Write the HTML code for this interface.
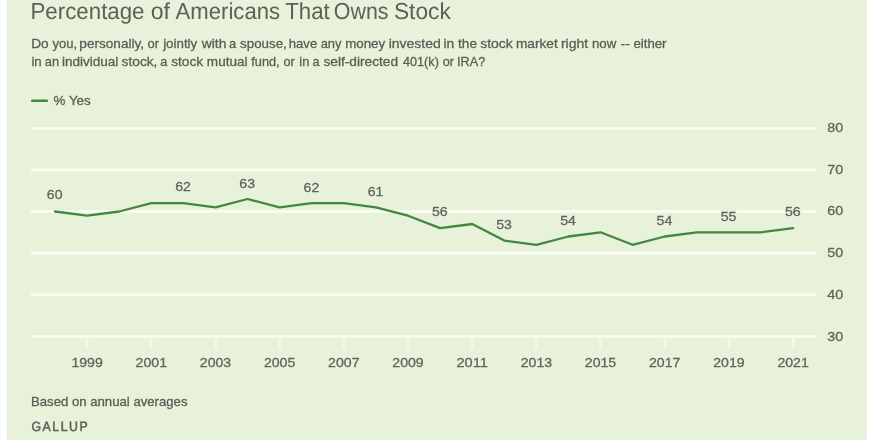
<!DOCTYPE html>
<html lang="en">
<head>
<meta charset="utf-8">
<title>Percentage of Americans That Owns Stock</title>
<style>
html,body{margin:0;padding:0;background:#fff;}
body{width:875px;height:440px;overflow:hidden;position:relative;}
svg{display:block;position:absolute;left:0;top:0;}
text{font-family:"Liberation Sans",Arial,Helvetica,sans-serif;fill:#5c6158;}
.t{font-size:23.2px;text-rendering:geometricPrecision;}
.s{font-size:13.4px;fill:#595e55;stroke:#595e55;stroke-width:0.3px;}
.d{font-size:13.3px;fill:#60655c;stroke:#60655c;stroke-width:0.3px;}
.m{text-anchor:middle;}
.g{font-size:13.4px;stroke:#5c6158;stroke-width:0.5px;text-rendering:geometricPrecision;}
</style>
</head>
<body>
<svg width="875" height="440" viewBox="0 0 875 440">
<rect x="0" y="0" width="875" height="440" fill="#ffffff"/>
<rect x="0" y="0" width="2" height="440" fill="#fbfbff"/>
<rect x="4" y="0" width="3" height="440" fill="#fefff8"/>
<rect x="7" y="0" width="858" height="440" fill="#e8f2da"/>
<rect x="7" y="0" width="1" height="440" fill="#e7eadc"/>
<rect x="8" y="0" width="3" height="440" fill="#eaf0de"/>
<rect x="864" y="0" width="1" height="440" fill="#ebf0dd"/>
<rect x="865" y="0" width="2" height="440" fill="#edefe1"/>
<rect x="867" y="0" width="3" height="440" fill="#fefff8"/>
<text y="18.5" class="t"><tspan x="30.5" textLength="114.02" lengthAdjust="spacingAndGlyphs">Percentage</tspan> <tspan x="150.63" textLength="19.31" lengthAdjust="spacingAndGlyphs">of</tspan> <tspan x="175.62" textLength="104.41" lengthAdjust="spacingAndGlyphs">Americans</tspan> <tspan x="285.23" textLength="44.44" lengthAdjust="spacingAndGlyphs">That</tspan> <tspan x="333.86" textLength="54.63" lengthAdjust="spacingAndGlyphs">Owns</tspan> <tspan x="393.95" textLength="56.88" lengthAdjust="spacingAndGlyphs">Stock</tspan></text>
<text y="48" class="s"><tspan x="31.18" textLength="17.49" lengthAdjust="spacingAndGlyphs">Do</tspan> <tspan x="52.44" textLength="24.69" lengthAdjust="spacingAndGlyphs">you,</tspan> <tspan x="79.36" textLength="64.75" lengthAdjust="spacingAndGlyphs">personally,</tspan> <tspan x="147.52" textLength="11.49" lengthAdjust="spacingAndGlyphs">or</tspan> <tspan x="163.13" textLength="34.12" lengthAdjust="spacingAndGlyphs">jointly</tspan> <tspan x="201.71" textLength="24.82" lengthAdjust="spacingAndGlyphs">with</tspan> <tspan x="228.88" textLength="7.18" lengthAdjust="spacingAndGlyphs">a</tspan> <tspan x="240.1" textLength="46.7" lengthAdjust="spacingAndGlyphs">spouse,</tspan> <tspan x="288.72" textLength="28.54" lengthAdjust="spacingAndGlyphs">have</tspan> <tspan x="320.7" textLength="20.81" lengthAdjust="spacingAndGlyphs">any</tspan> <tspan x="345.14" textLength="40.06" lengthAdjust="spacingAndGlyphs">money</tspan> <tspan x="388.7" textLength="52.07" lengthAdjust="spacingAndGlyphs">invested</tspan> <tspan x="443.57" textLength="10.73" lengthAdjust="spacingAndGlyphs">in</tspan> <tspan x="458.1" textLength="18.86" lengthAdjust="spacingAndGlyphs">the</tspan> <tspan x="480.16" textLength="32.64" lengthAdjust="spacingAndGlyphs">stock</tspan> <tspan x="515.99" textLength="41.72" lengthAdjust="spacingAndGlyphs">market</tspan> <tspan x="560.94" textLength="27.21" lengthAdjust="spacingAndGlyphs">right</tspan> <tspan x="591.9" textLength="24.37" lengthAdjust="spacingAndGlyphs">now</tspan> <tspan x="620.56" textLength="9.31" lengthAdjust="spacingAndGlyphs">--</tspan> <tspan x="633.42" textLength="33.11" lengthAdjust="spacingAndGlyphs">either</tspan></text>
<text y="66" class="s"><tspan x="31.4" textLength="10.39" lengthAdjust="spacingAndGlyphs">in</tspan> <tspan x="44.81" textLength="14.29" lengthAdjust="spacingAndGlyphs">an</tspan> <tspan x="61.95" textLength="56.42" lengthAdjust="spacingAndGlyphs">individual</tspan> <tspan x="121.63" textLength="35.81" lengthAdjust="spacingAndGlyphs">stock,</tspan> <tspan x="160.32" textLength="7.04" lengthAdjust="spacingAndGlyphs">a</tspan> <tspan x="171.16" textLength="32.02" lengthAdjust="spacingAndGlyphs">stock</tspan> <tspan x="206.85" textLength="40.7" lengthAdjust="spacingAndGlyphs">mutual</tspan> <tspan x="251.31" textLength="28.26" lengthAdjust="spacingAndGlyphs">fund,</tspan> <tspan x="283.42" textLength="11.27" lengthAdjust="spacingAndGlyphs">or</tspan> <tspan x="299.32" textLength="9.94" lengthAdjust="spacingAndGlyphs">in</tspan> <tspan x="312.41" textLength="7.04" lengthAdjust="spacingAndGlyphs">a</tspan> <tspan x="323.42" textLength="74.69" lengthAdjust="spacingAndGlyphs">self-directed</tspan> <tspan x="402.99" textLength="35.89" lengthAdjust="spacingAndGlyphs">401(k)</tspan> <tspan x="442.77" textLength="11.27" lengthAdjust="spacingAndGlyphs">or</tspan> <tspan x="457.1" textLength="28.15" lengthAdjust="spacingAndGlyphs">IRA?</tspan></text>
<rect x="31" y="99.4" width="17" height="2.6" rx="1" fill="#44873f"/>
<text x="53.5" y="105.2" class="s">% Yes</text>
<rect x="31" y="335.0" width="785" height="2.6" fill="#fafdf5"/>
<rect x="31" y="293.4" width="785" height="2.6" fill="#fafdf5"/>
<rect x="31" y="251.8" width="785" height="2.6" fill="#fafdf5"/>
<rect x="31" y="210.2" width="785" height="2.6" fill="#fafdf5"/>
<rect x="31" y="168.6" width="785" height="2.6" fill="#fafdf5"/>
<rect x="31" y="127.0" width="785" height="2.6" fill="#fafdf5"/>
<text x="827.3" y="341" class="d" textLength="15.9" lengthAdjust="spacingAndGlyphs">30</text>
<text x="827.3" y="299" class="d" textLength="15.9" lengthAdjust="spacingAndGlyphs">40</text>
<text x="827.3" y="257" class="d" textLength="15.9" lengthAdjust="spacingAndGlyphs">50</text>
<text x="827.3" y="215" class="d" textLength="15.9" lengthAdjust="spacingAndGlyphs">60</text>
<text x="827.3" y="174" class="d" textLength="15.9" lengthAdjust="spacingAndGlyphs">70</text>
<text x="827.3" y="132" class="d" textLength="15.9" lengthAdjust="spacingAndGlyphs">80</text>
<rect x="85.9" y="336.3" width="2.4" height="13" fill="#f4f9ec"/>
<rect x="150.1" y="336.3" width="2.4" height="13" fill="#f4f9ec"/>
<rect x="214.3" y="336.3" width="2.4" height="13" fill="#f4f9ec"/>
<rect x="278.4" y="336.3" width="2.4" height="13" fill="#f4f9ec"/>
<rect x="342.6" y="336.3" width="2.4" height="13" fill="#f4f9ec"/>
<rect x="406.8" y="336.3" width="2.4" height="13" fill="#f4f9ec"/>
<rect x="471.0" y="336.3" width="2.4" height="13" fill="#f4f9ec"/>
<rect x="535.1" y="336.3" width="2.4" height="13" fill="#f4f9ec"/>
<rect x="599.3" y="336.3" width="2.4" height="13" fill="#f4f9ec"/>
<rect x="663.5" y="336.3" width="2.4" height="13" fill="#f4f9ec"/>
<rect x="727.7" y="336.3" width="2.4" height="13" fill="#f4f9ec"/>
<rect x="791.9" y="336.3" width="2.4" height="13" fill="#f4f9ec"/>
<text x="87.1" y="367" class="d m" textLength="31.4" lengthAdjust="spacingAndGlyphs">1999</text>
<text x="151.3" y="367" class="d m" textLength="31.4" lengthAdjust="spacingAndGlyphs">2001</text>
<text x="215.5" y="367" class="d m" textLength="31.4" lengthAdjust="spacingAndGlyphs">2003</text>
<text x="279.6" y="367" class="d m" textLength="31.4" lengthAdjust="spacingAndGlyphs">2005</text>
<text x="343.8" y="367" class="d m" textLength="31.4" lengthAdjust="spacingAndGlyphs">2007</text>
<text x="408.0" y="367" class="d m" textLength="31.4" lengthAdjust="spacingAndGlyphs">2009</text>
<text x="472.2" y="367" class="d m" textLength="31.4" lengthAdjust="spacingAndGlyphs">2011</text>
<text x="536.4" y="367" class="d m" textLength="31.4" lengthAdjust="spacingAndGlyphs">2013</text>
<text x="600.5" y="367" class="d m" textLength="31.4" lengthAdjust="spacingAndGlyphs">2015</text>
<text x="664.7" y="367" class="d m" textLength="31.4" lengthAdjust="spacingAndGlyphs">2017</text>
<text x="728.9" y="367" class="d m" textLength="31.4" lengthAdjust="spacingAndGlyphs">2019</text>
<text x="793.1" y="367" class="d m" textLength="31.4" lengthAdjust="spacingAndGlyphs">2021</text>

<polyline points="55.0,211.5 87.1,215.7 119.2,211.5 151.3,203.2 183.4,203.2 215.5,207.3 247.5,199.0 279.6,207.3 311.7,203.2 343.8,203.2 375.9,207.3 408.0,215.7 440.1,228.1 472.2,224.0 504.3,240.6 536.4,244.8 568.4,236.5 600.5,232.3 632.6,244.8 664.7,236.5 696.8,232.3 728.9,232.3 761.0,232.3 793.1,228.1" fill="none" stroke="#44873f" stroke-width="2.3" stroke-linejoin="round" stroke-linecap="round"/>
<rect x="46.5" y="187.7" width="16.4" height="12.8" rx="2" fill="#e8f2da"/><text x="54.7" y="199" class="d m" textLength="15.7" lengthAdjust="spacingAndGlyphs">60</text>
<rect x="174.9" y="179.7" width="16.4" height="12.8" rx="2" fill="#e8f2da"/><text x="183.1" y="191" class="d m" textLength="15.7" lengthAdjust="spacingAndGlyphs">62</text>
<rect x="239.0" y="176.7" width="16.4" height="12.8" rx="2" fill="#e8f2da"/><text x="247.2" y="188" class="d m" textLength="15.7" lengthAdjust="spacingAndGlyphs">63</text>
<rect x="303.2" y="180.7" width="16.4" height="12.8" rx="2" fill="#e8f2da"/><text x="311.4" y="192" class="d m" textLength="15.7" lengthAdjust="spacingAndGlyphs">62</text>
<rect x="367.4" y="184.7" width="16.4" height="12.8" rx="2" fill="#e8f2da"/><text x="375.6" y="196" class="d m" textLength="15.7" lengthAdjust="spacingAndGlyphs">61</text>
<rect x="431.6" y="204.7" width="16.4" height="12.8" rx="2" fill="#e8f2da"/><text x="439.8" y="216" class="d m" textLength="15.7" lengthAdjust="spacingAndGlyphs">56</text>
<rect x="495.8" y="217.7" width="16.4" height="12.8" rx="2" fill="#e8f2da"/><text x="504.0" y="229" class="d m" textLength="15.7" lengthAdjust="spacingAndGlyphs">53</text>
<rect x="559.9" y="213.7" width="16.4" height="12.8" rx="2" fill="#e8f2da"/><text x="568.1" y="225" class="d m" textLength="15.7" lengthAdjust="spacingAndGlyphs">54</text>
<rect x="656.2" y="213.7" width="16.4" height="12.8" rx="2" fill="#e8f2da"/><text x="664.4" y="225" class="d m" textLength="15.7" lengthAdjust="spacingAndGlyphs">54</text>
<rect x="720.4" y="209.7" width="16.4" height="12.8" rx="2" fill="#e8f2da"/><text x="728.6" y="221" class="d m" textLength="15.7" lengthAdjust="spacingAndGlyphs">55</text>
<rect x="784.6" y="204.7" width="16.4" height="12.8" rx="2" fill="#e8f2da"/><text x="792.8" y="216" class="d m" textLength="15.7" lengthAdjust="spacingAndGlyphs">56</text>

<text x="31" y="406" class="s" textLength="156.5" lengthAdjust="spacingAndGlyphs">Based on annual averages</text>
<text transform="translate(31.5,431) scale(0.92,1)" x="0" y="0" class="g" textLength="61" lengthAdjust="spacing">GALLUP</text>
</svg>
</body>
</html>
